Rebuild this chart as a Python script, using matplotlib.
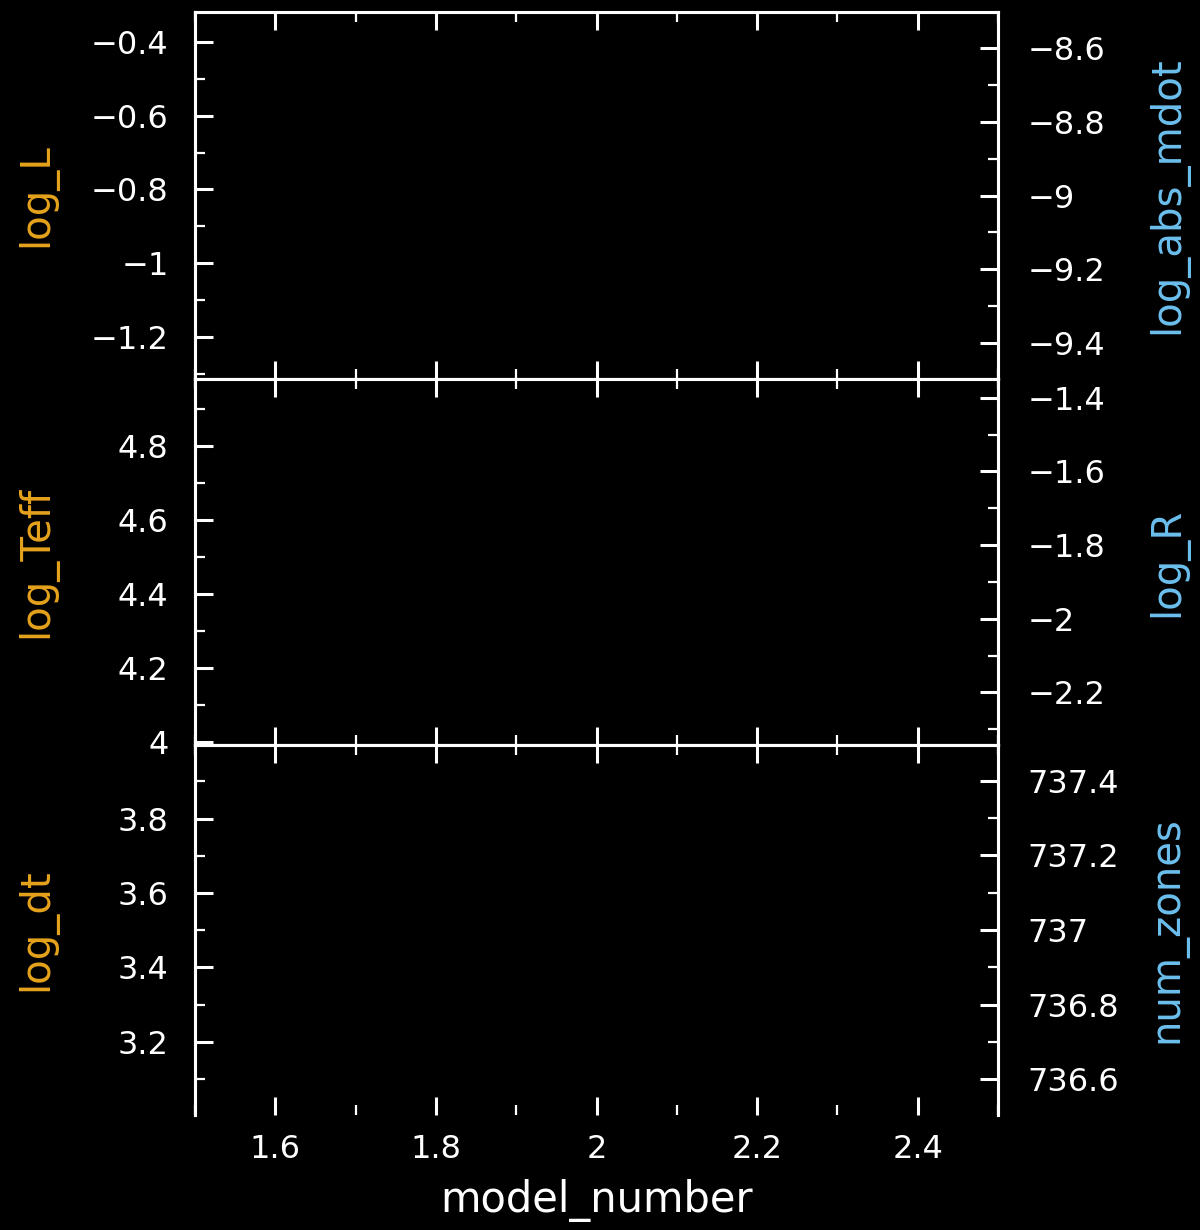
import matplotlib
matplotlib.use("Agg")
import matplotlib.pyplot as plt
from matplotlib.ticker import MultipleLocator, FuncFormatter

# empty history: the run has no points yet, only the axes frames
model_number = []
log_L = []
log_abs_mdot = []
log_Teff = []
log_R = []
log_dt = []
num_zones = []

x_range = [1.5, 2.5]
left_names = ["log_L", "log_Teff", "log_dt"]
right_names = ["log_abs_mdot", "log_R", "num_zones"]
left_ranges = [[-1.314, -0.319], [3.992, 4.981], [3.003, 3.998]]
right_ranges = [[-9.498, -8.502], [-2.343, -1.349], [736.505, 737.495]]
left_series = [log_L, log_Teff, log_dt]
right_series = [log_abs_mdot, log_R, num_zones]

orange = "#e6a31c"
blue = "#6cc0ee"
plt.rcParams["font.family"] = ["DejaVu Sans"]


def fmt(v, pos):
    s = f"{round(v, 6):g}"
    return s.replace("-", "\u2212")


fig = plt.figure(figsize=(12, 12.3), dpi=100, facecolor="black")
left, width = 0.1625, 0.6692
edges = [0.99024, 0.69187, 0.39431, 0.0935]

for i in range(3):
    bottom = edges[i + 1]
    height = edges[i] - edges[i + 1]
    ax = fig.add_axes([left, bottom, width, height], facecolor="black")
    ax2 = ax.twinx()

    ax.plot(model_number, left_series[i], color=orange)
    ax2.plot(model_number, right_series[i], color=blue)

    ax.set_xlim(x_range)
    ax.set_ylim(left_ranges[i])
    ax2.set_ylim(right_ranges[i])

    for a in (ax, ax2):
        for sp in a.spines.values():
            sp.set_color("white")
            sp.set_linewidth(2.2)
        a.spines["bottom"].set_visible(i < 2)
        a.yaxis.set_major_locator(MultipleLocator(0.2))
        a.yaxis.set_minor_locator(MultipleLocator(0.1))
        a.yaxis.set_major_formatter(FuncFormatter(fmt))

    ax.xaxis.set_major_locator(MultipleLocator(0.2))
    ax.xaxis.set_minor_locator(MultipleLocator(0.1))
    ax.xaxis.set_major_formatter(FuncFormatter(fmt))

    ax.tick_params(axis="both", which="both", direction="in", colors="white",
                   top=True, bottom=True, left=True, right=False,
                   labelsize=23)
    ax.tick_params(axis="both", which="major", length=13, width=2.2)
    ax.tick_params(axis="both", which="minor", length=7, width=1.6)
    ax.tick_params(axis="y", pad=19)
    ax.tick_params(axis="x", pad=14, labelbottom=(i == 2))

    ax2.tick_params(axis="y", which="both", direction="in", colors="white",
                    right=True, left=False, labelsize=23, pad=21)
    ax2.tick_params(axis="y", which="major", length=13, width=2.2)
    ax2.tick_params(axis="y", which="minor", length=7, width=1.6)

    ax.set_ylabel(left_names[i], color=orange, fontsize=29)
    ax.yaxis.set_label_coords(-0.172, 0.5)
    ax2.set_ylabel(right_names[i], color=blue, fontsize=29)
    ax2.yaxis.set_label_coords(1.186, 0.5)

    if i == 2:
        ax.set_xlabel("model_number", color="white", fontsize=30, labelpad=10)

fig.savefig("out.png", dpi=100, facecolor="black")
